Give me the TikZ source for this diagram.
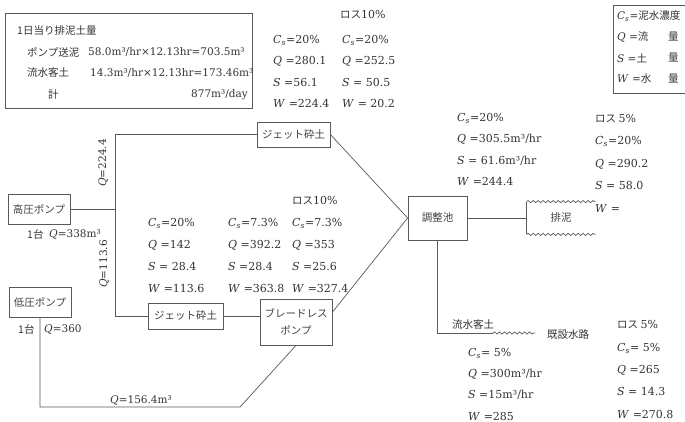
\documentclass[tikz,border=0pt]{standalone}
\usepackage{fontspec}
\setmainfont{DejaVu Serif}
\newfontfamily\jp{Noto Sans CJK JP}
\usetikzlibrary{decorations.pathmorphing,calc}
\newcommand{\csv}{\textit{C}\textsubscript{\textit{s}}}
\begin{document}
\begin{tikzpicture}[x=1pt,y=-1pt,
  line/.style={draw=black!65, line width=0.7pt},
  box/.style={draw=black!65, line width=0.8pt, inner sep=0pt, font=\jp\fontsize{10.5}{17}\selectfont, text=black!75, align=center},
  col/.style={inner sep=0pt, anchor=north west, align=left, text=black!80, font=\fontsize{11}{#1}\selectfont},
  col/.default=21.5,
  lbl/.style={inner sep=0pt, anchor=west, text=black!80, font=\fontsize{10.5}{12}\selectfont},
  jlbl/.style={inner sep=0pt, anchor=west, text=black!80, font=\jp\fontsize{10.5}{12}\selectfont},
  wave/.style={decorate, decoration={snake, amplitude=1.1pt, segment length=5pt}}]
\useasboundingbox (0,0) rectangle (685,422);

% summary box
\node[draw=black!65, line width=0.8pt, minimum width=247, minimum height=95, inner sep=0] (sumbox) at (128.5,60.5) {};
\node[jlbl] (s0) at (17,31) {1日当り排泥土量};
\node[jlbl] (s1a) at (27,52) {ポンプ送泥};
\node[lbl] (s1b) at (88,52) {58.0m³/hr×12.13hr=703.5m³};
\node[jlbl] (s2a) at (27,73) {流水客土};
\node[lbl] (s2b) at (90,73) {14.3m³/hr×12.13hr=173.46m³};
\node[jlbl] (s3a) at (48,95) {計};
\node[lbl, anchor=east] (s3b) at (248,95) {877m³/day};

% legend box
\node[draw=black!65, line width=0.8pt, minimum width=80, minimum height=88, inner sep=0, anchor=north west] (legend) at (613,5) {};
\node[lbl] (g1) at (617,16) {\csv={\jp 泥水濃度}};
\node[lbl] (g2) at (617,37) {\textit{Q} ={\jp 流}};
\node[lbl] (g3) at (617,58) {\textit{S} ={\jp 土}};
\node[lbl] (g4) at (617,79) {\textit{W} ={\jp 水}};
\node[jlbl] (g2b) at (668,37) {量};
\node[jlbl] (g3b) at (668,58) {量};
\node[jlbl] (g4b) at (668,79) {量};

% boxes
\node[box, minimum width=73, minimum height=25] (jetA) at (293.5,134.5) {ジェット砕土};
\node[box, minimum width=75, minimum height=26] (jetB) at (185.5,316) {ジェット砕土};
\node[box, minimum width=72, minimum height=46] (blade) at (296,322) {ブレードレス\\ポンプ};
\node[box, minimum width=59, minimum height=44] (pond) at (437.5,218) {調整池};
\node[box, minimum width=62, minimum height=30] (hp) at (39,209) {高圧ポンプ};
\node[box, minimum width=62, minimum height=30] (lp) at (40,302) {低圧ポンプ};
\node[box, draw=none, minimum width=68, minimum height=32] (mud) at (561,218) {排泥};
\draw[line] (mud.south west) -- (mud.north west);
\draw[line, wave] (mud.north west) -- (mud.north east);
\draw[line, wave] (mud.south west) -- (mud.south east);

% connectors
\coordinate (c1) at (115,134.5);
\coordinate (c2) at (115,316);
\draw[line] (jetA.west) -- (c1) -- (c2) -- (jetB.west);
\draw[line] (hp.east) -- (hp.east -| c1);
\draw[line] (jetB.east) -- (jetB.east -| blade.west);
\coordinate (c3) at (40,407);
\coordinate (c4) at (240,407);
\draw[line] (lp.south) -- (c3) -- (c4) -- (blade.south);
\draw[line] (jetA.east) -- (pond.west);
\draw[line] (blade.15) -- (pond.west);
\draw[line] (pond.east) -- (mud.west);
\coordinate (c5) at (437.5,333);
\coordinate (c6) at (493,333);
\coordinate (c7) at (535,333);
\draw[line] (pond.south) -- (c5) -- (c6);
\draw[line, wave] (c6) -- (c7);

% flow labels
\node[lbl, rotate=90, anchor=center] (qa) at (103,163) {\textit{Q}=224.4};
\node[lbl, rotate=90, anchor=center] (qb) at (104,264) {\textit{Q}=113.6};
\node[jlbl] (hpn) at (27,234) {1台};
\node[lbl] (hpq) at (49,234) {\textit{Q}=338m³};
\node[jlbl] (lpn) at (18,329) {1台};
\node[lbl] (lpq) at (44,329) {\textit{Q}=360};
\node[lbl] (qc) at (110,400) {\textit{Q}=156.4m³};
\node[jlbl] (inflow) at (452,325) {流水客土};
\node[jlbl] (canal) at (547,335) {既設水路};

% data columns
\node[jlbl] (lossA) at (340,15) {ロス{\fontspec{DejaVu Serif}\fontsize{11}{12}\selectfont 10\%}};
\node[col] (tA1) at (273,35) {\csv=20\%\\\textit{Q} =280.1\\\textit{S} =56.1\\\textit{W} =224.4};
\node[col] (tA2) at (342,35) {\csv=20\%\\\textit{Q} =252.5\\\textit{S} = 50.5\\\textit{W} = 20.2};
\node[col] (tM) at (457,113) {\csv=20\%\\\textit{Q} =305.5m³/hr\\\textit{S} = 61.6m³/hr\\\textit{W} =244.4};
\node[jlbl] (lossR) at (595,119) {ロス {\fontspec{DejaVu Serif}\fontsize{11}{12}\selectfont 5\%}};
\node[col=22.7] (tR) at (595,136) {\csv=20\%\\\textit{Q} =290.2\\\textit{S} = 58.0\\\textit{W} =};
\node[col=22] (tL1) at (148,218) {\csv=20\%\\\textit{Q} =142\\\textit{S} = 28.4\\\textit{W} =113.6};
\node[col=22] (tL2) at (228,218) {\csv=7.3\%\\\textit{Q} =392.2\\\textit{S} =28.4\\\textit{W} =363.8};
\node[jlbl] (lossL) at (292,201) {ロス{\fontspec{DejaVu Serif}\fontsize{11}{12}\selectfont 10\%}};
\node[col=22] (tL3) at (292,218) {\csv=7.3\%\\\textit{Q} =353\\\textit{S} =25.6\\\textit{W} =327.4};
\node[col=21.3] (tB1) at (468,348) {\csv= 5\%\\\textit{Q} =300m³/hr\\\textit{S} =15m³/hr\\\textit{W} =285};
\node[jlbl] (lossB) at (617,325) {ロス {\fontspec{DejaVu Serif}\fontsize{11}{12}\selectfont 5\%}};
\node[col=22.3] (tB2) at (617,343) {\csv= 5\%\\\textit{Q} =265\\\textit{S} = 14.3\\\textit{W} =270.8};
\end{tikzpicture}
\end{document}
